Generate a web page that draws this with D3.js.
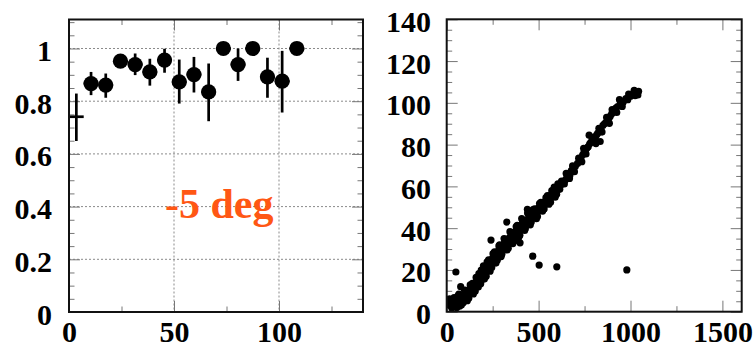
<!DOCTYPE html>
<html>
<head>
<meta charset="utf-8">
<script src="https://cdn.jsdelivr.net/npm/d3@7"></script>
<style>
  html, body { margin: 0; padding: 0; background: #fff; }
  svg { display: block; }
  text { font-family: "Liberation Serif", "Times New Roman", serif; font-weight: bold; }
</style>
</head>
<body>
<svg id="chart" width="756" height="349"></svg>
<script>
// ---- Efficiency panel: bin centres, efficiency, asymmetric errors ----
const effBinCenters = [3.5, 10.5, 17.5, 24.5, 31.5, 38.5, 45.5, 52.5, 59.5, 66.5, 73.5, 80.5, 87.5, 94.5, 101.5, 108.5];
const effValues     = [0.741, 0.867, 0.861, 0.952, 0.939, 0.911, 0.956, 0.873, 0.901, 0.835, 1.0, 0.939, 1.0, 0.892, 0.876, 1.0];
const effErrHigh    = [0.829, 0.911, 0.905, 0.962, 0.981, 0.961, 0.999, 0.958, 0.968, 0.943, 1.0, 1.0, 1.0, 0.965, 0.991, 1.0];
const effErrLow     = [0.649, 0.823, 0.813, 0.940, 0.899, 0.859, 0.908, 0.791, 0.833, 0.724, 1.0, 0.877, 1.0, 0.813, 0.757, 1.0];
const effBinHalfWidth = 3.5;
// first bin is drawn as a bare cross (no marker)
const effMarker     = [false, true, true, true, true, true, true, true, true, true, true, true, true, true, true, true];

const effXTicksMajor = [0, 50, 100];
const effXTicksMinor = [25, 75, 125];
const effYTicksMajor = [0, 0.2, 0.4, 0.6, 0.8, 1];
const effYTickLabels = ["0", "0.2", "0.4", "0.6", "0.8", "1"];
const effYTicksMinor = [0.05, 0.1, 0.15, 0.25, 0.3, 0.35, 0.45, 0.5, 0.55, 0.65, 0.7, 0.75, 0.85, 0.9, 0.95, 1.05, 1.1];
const effGridX = [50, 100];
const effGridY = [0.2, 0.4, 0.6, 0.8, 1];
const annotation = "-5 deg";

// ---- Correlation panel: scatter points [x, y] ----
const corrPoints = [
  [12,3.2],[18,4.5],[22,2.8],[25,5.1],[30,3.9],[34,2.5],[38,4.8],[42,3.4],[45,6.0],[48,2.9],
  [52,4.2],[55,5.5],[58,3.1],[62,4.6],[65,6.3],[68,3.8],[72,5.2],[75,7.0],[78,4.4],[82,6.1],
  [85,5.0],[88,7.4],[92,6.2],[95,8.0],[98,5.6],[102,7.2],[106,8.6],[110,6.8],[114,9.3],[118,8.0],
  [122,10.1],[126,8.7],[130,11.0],[134,9.6],[138,11.8],[142,10.4],[146,12.6],[150,11.5],[154,13.5],[158,12.3],
  [162,14.4],[166,13.2],[170,15.3],[174,14.1],[178,16.4],[182,15.0],[186,17.2],[190,16.1],[194,18.5],[198,17.3],
  [202,19.6],[206,18.4],[210,20.5],[214,19.3],[218,21.6],[222,20.4],[226,22.7],[230,21.4],[234,23.5],[238,22.5],
  [242,24.8],[246,23.4],[250,25.6],[254,24.5],[258,26.7],[262,25.4],[266,27.3],[270,26.5],[274,28.4],[278,27.2],
  [282,29.3],[286,28.1],[290,30.2],[294,29.0],[298,31.1],[302,29.8],[306,32.0],[310,30.6],[314,32.8],[318,31.4],
  [322,33.6],[326,32.0],[330,34.4],[334,32.9],[338,35.1],[342,33.7],[346,35.9],[350,34.5],[355,36.8],[360,35.3],
  [365,37.6],[370,36.4],[375,38.6],[380,37.2],[385,39.5],[390,38.3],[395,40.4],[400,39.1],[405,41.3],[410,40.0],
  [415,42.2],[420,41.0],[426,43.3],[432,42.0],[438,44.1],[444,43.2],[450,45.0],[456,44.2],[462,46.1],[468,45.3],
  [474,47.2],[480,46.4],[486,48.3],[492,47.5],[498,49.6],[504,48.5],[510,50.5],[516,49.6],[522,51.6],[528,50.8],
  [534,52.7],[540,52.0],[546,53.8],[552,53.0],[558,55.2],[564,54.1],[570,56.3],[576,55.5],[582,57.8],[588,56.6],
  [594,58.9],[600,58.0],[610,60.2],[620,60.6],[632,61.8],[645,63.0],[655,64.8],[662,66.1],[670,65.2],[678,67.5],
  [690,68.2],[700,69.6],[712,71.0],[722,72.8],[730,73.5],[740,75.1],[748,76.8],[755,77.2],[762,78.3],[770,79.0],
  [778,80.4],[785,81.2],[795,82.0],[800,81.5],[808,83.0],[815,84.6],[822,85.5],[840,87.0],[850,89.2],[858,90.0],
  [866,90.6],[875,91.8],[882,92.5],[890,93.6],[898,94.8],[905,95.5],[912,96.2],[920,97.5],[930,98.2],[945,99.5],
  [960,100.3],[975,102.0],[985,101.5],[1000,103.2],[1010,104.0],[1025,103.5],[1035,104.5],[1044,105.5],[1040,103.8],
  [60,7.5],[70,2.6],[90,4.3],[105,10.2],[120,6.4],[140,13.6],[155,9.8],[175,18.2],[185,13.4],[200,22.0],
  [215,17.0],[228,24.8],[245,21.2],[260,28.6],[275,24.6],[288,32.0],[300,27.5],[318,34.6],[335,30.4],[352,37.9],
  [368,33.8],[384,41.4],[398,36.6],[412,43.8],[428,39.8],[445,46.6],[460,42.9],[478,49.3],[494,45.6],[512,52.4],
  [530,49.2],[548,55.6],[565,52.4],[585,59.6],[598,56.2],
  [15,6.2],[28,1.8],[40,6.8],[55,2.0],[66,8.4],[80,3.2],[96,10.4],[112,5.3],[128,12.8],[145,8.5],
  [160,16.4],[172,11.8],[188,19.9],[205,15.6],[220,23.9],[236,19.4],[252,27.8],[268,23.3],[284,31.5],[296,26.4],
  [312,35.0],[328,29.6],[344,38.3],[360,32.6],[378,40.8],[392,35.6],[408,44.6],[424,38.9],[440,47.2],[455,41.6],
  [470,48.9],[488,44.5],[505,51.8],[522,48.2],[540,54.6],[556,51.5],[572,58.0],[590,54.8],[605,61.2],[615,58.6],
  [625,62.5],[640,61.2],[650,66.2],[668,63.8],[685,69.8],[695,67.0],[718,73.5],[735,71.8],[745,78.2],[758,75.5],
  [790,83.5],[812,80.5],[828,87.8],[845,86.0],[870,93.0],[885,90.2],[900,96.8],[925,95.4],[940,101.5],[955,98.3],
  [990,104.2],[1020,106.0],
  // off-band entries
  [50,19],[76,12],[241,34.3],[327,42.9],[399,33],[439,49],[468,26.6],[503,22.3],[599,21.5],[980,20],
  [775,84.5],[835,81.5]
];
const corrXTicksMajor = [0, 500, 1000, 1500];
const corrXTicksMinor = [250, 750, 1250];
const corrYTicksMajor = [0, 20, 40, 60, 80, 100, 120, 140];
const corrYTicksMinor = d3.range(5, 140, 5).filter(v => v % 20 !== 0);

// ---- Layout ----
const svg = d3.select("#chart");
const frameColor = "#111";
const tickColor = "#777";
const majorLen = 11, minorLen = 5.5;
const labelSize = 30;
const xLabelBaseline = 342;

function drawTicks(g, scale, orient, values, len, labels, pad) {
  const axisFn = { left: d3.axisLeft, right: d3.axisRight, top: d3.axisTop, bottom: d3.axisBottom }[orient];
  const ax = axisFn(scale).tickValues(values).tickSize(-len).tickPadding(pad || 0)
    .tickFormat(labels ? (d, i) => labels[i] : () => "");
  g.call(ax);
  g.select(".domain").remove();
  g.selectAll(".tick line").attr("stroke", tickColor).attr("stroke-width", 1);
  g.selectAll(".tick text")
    .attr("fill", "#000")
    .style("font-size", labelSize + "px")
    .style("font-family", '"Liberation Serif", "Times New Roman", serif')
    .style("font-weight", "bold");
  return g;
}

function panel(box, xDomain, yDomain) {
  const x = d3.scaleLinear().domain(xDomain).range([box.left, box.right]);
  const y = d3.scaleLinear().domain(yDomain).range([box.bottom, box.top]);
  return { x, y };
}

// ================= Left panel =================
const L = { left: 69, right: 363, top: 19.5, bottom: 312 };
const ls = panel(L, [0, 140], [0, 1.11]);
const gL = svg.append("g");

// dotted grid
gL.append("g").selectAll("line").data(effGridY).join("line")
  .attr("x1", L.left).attr("x2", L.right)
  .attr("y1", d => ls.y(d)).attr("y2", d => ls.y(d))
  .attr("stroke", "#8a8a8a").attr("stroke-width", 1).attr("stroke-dasharray", "2,2");
gL.append("g").selectAll("line").data(effGridX).join("line")
  .attr("y1", L.top).attr("y2", L.bottom)
  .attr("x1", d => ls.x(d)).attr("x2", d => ls.x(d))
  .attr("stroke", "#8a8a8a").attr("stroke-width", 1).attr("stroke-dasharray", "2,2");

// ticks
const ly = drawTicks(gL.append("g").attr("transform", `translate(${L.left},0)`), ls.y, "left", effYTicksMajor, majorLen, effYTickLabels, 6);
ly.selectAll(".tick text").attr("x", -(L.left - 52)).attr("dy", "0.4em");
drawTicks(gL.append("g").attr("transform", `translate(${L.left},0)`), ls.y, "left", effYTicksMinor, minorLen);
drawTicks(gL.append("g").attr("transform", `translate(${L.right},0)`), ls.y, "right", effYTicksMajor, majorLen);
drawTicks(gL.append("g").attr("transform", `translate(${L.right},0)`), ls.y, "right", effYTicksMinor, minorLen);
const lx = drawTicks(gL.append("g").attr("transform", `translate(0,${L.bottom})`), ls.x, "bottom", effXTicksMajor, majorLen, effXTicksMajor.map(String), 0);
lx.selectAll(".tick text").attr("y", xLabelBaseline - L.bottom).attr("dy", 0);
drawTicks(gL.append("g").attr("transform", `translate(0,${L.bottom})`), ls.x, "bottom", effXTicksMinor, minorLen);
drawTicks(gL.append("g").attr("transform", `translate(0,${L.top})`), ls.x, "top", effXTicksMajor.slice(1), majorLen);
drawTicks(gL.append("g").attr("transform", `translate(0,${L.top})`), ls.x, "top", effXTicksMinor, minorLen);

// annotation
gL.append("text")
  .attr("x", 165).attr("y", 218)
  .attr("fill", "#ff5714")
  .style("font-size", "42px")
  .text(annotation);

// error bars and markers
const effData = effBinCenters.map((c, i) => ({ c, v: effValues[i], lo: effErrLow[i], hi: effErrHigh[i], m: effMarker[i] }));
const gE = gL.append("g");
gE.selectAll("line.ey").data(effData).join("line").attr("class", "ey")
  .attr("x1", d => ls.x(d.c)).attr("x2", d => ls.x(d.c))
  .attr("y1", d => ls.y(d.lo)).attr("y2", d => ls.y(d.hi))
  .attr("stroke", "#000").attr("stroke-width", 2.7);
gE.selectAll("line.ex").data(effData).join("line").attr("class", "ex")
  .attr("x1", d => ls.x(d.c - effBinHalfWidth)).attr("x2", d => ls.x(d.c + effBinHalfWidth))
  .attr("y1", d => ls.y(d.v)).attr("y2", d => ls.y(d.v))
  .attr("stroke", "#000").attr("stroke-width", 2.7);
gE.selectAll("circle").data(effData.filter(d => d.m)).join("circle")
  .attr("cx", d => ls.x(d.c)).attr("cy", d => ls.y(d.v)).attr("r", 7.6)
  .attr("fill", "#000");

// frame
gL.append("rect").attr("x", L.left).attr("y", L.top)
  .attr("width", L.right - L.left).attr("height", L.bottom - L.top)
  .attr("fill", "none").attr("stroke", frameColor).attr("stroke-width", 2);

// ================= Right panel =================
const R = { left: 446.7, right: 741.7, top: 19.3, bottom: 311.7 };
const rs = panel(R, [0, 1605], [0, 140]);
const gR = svg.append("g");

const ry = drawTicks(gR.append("g").attr("transform", `translate(${R.left},0)`), rs.y, "left", corrYTicksMajor, majorLen, corrYTicksMajor.map(String), 0);
ry.selectAll(".tick text").attr("x", -(R.left - 431)).attr("dy", "0.4em");
drawTicks(gR.append("g").attr("transform", `translate(${R.left},0)`), rs.y, "left", corrYTicksMinor, minorLen);
drawTicks(gR.append("g").attr("transform", `translate(${R.right},0)`), rs.y, "right", corrYTicksMajor, majorLen);
drawTicks(gR.append("g").attr("transform", `translate(${R.right},0)`), rs.y, "right", corrYTicksMinor, minorLen);
const rx = drawTicks(gR.append("g").attr("transform", `translate(0,${R.bottom})`), rs.x, "bottom", corrXTicksMajor, majorLen, corrXTicksMajor.map(String), 0);
rx.selectAll(".tick text").attr("y", xLabelBaseline - R.bottom).attr("dy", 0);
drawTicks(gR.append("g").attr("transform", `translate(0,${R.bottom})`), rs.x, "bottom", corrXTicksMinor, minorLen);
drawTicks(gR.append("g").attr("transform", `translate(0,${R.top})`), rs.x, "top", corrXTicksMajor, majorLen);
drawTicks(gR.append("g").attr("transform", `translate(0,${R.top})`), rs.x, "top", corrXTicksMinor, minorLen);

svg.append("clipPath").attr("id", "clipR").append("rect")
  .attr("x", R.left).attr("y", R.top).attr("width", R.right - R.left).attr("height", R.bottom - R.top);
gR.append("g").attr("clip-path", "url(#clipR)")
  .selectAll("circle").data(corrPoints).join("circle")
  .attr("cx", d => rs.x(d[0])).attr("cy", d => rs.y(d[1])).attr("r", 3.6)
  .attr("fill", "#000");

gR.append("rect").attr("x", R.left).attr("y", R.top)
  .attr("width", R.right - R.left).attr("height", R.bottom - R.top)
  .attr("fill", "none").attr("stroke", frameColor).attr("stroke-width", 2);
</script>
</body>
</html>
